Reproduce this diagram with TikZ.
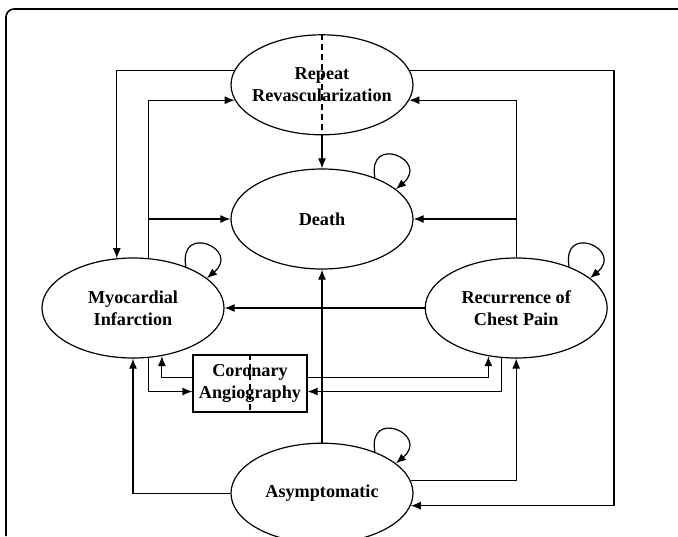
\documentclass[tikz,border=0pt]{standalone}
\usepackage{fontspec}
\setmainfont{Liberation Serif}
\usetikzlibrary{arrows.meta,positioning,shapes.geometric}

\begin{document}
\begin{tikzpicture}[x=0.5pt,y=0.5pt,
		state/.style={ellipse,draw=black,line width=0.6pt,inner sep=0mm,minimum width=91pt,minimum height=50pt},
		procbox/.style={rectangle,draw=black,line width=0.6pt,inner sep=0mm,minimum width=57pt,minimum height=28.5pt},
		every label/.style={align=center,font=\fontsize{9.1}{11}\selectfont\bfseries},
		link/.style={line width=0.6pt,-{Latex[length=5pt,width=4pt]}},
		selfloop/.style={link,out=100,in=40,distance=22.5pt}]

	\useasboundingbox (0,0) rectangle (678,-536);
	\clip (0,0) rectangle (678,-536);
	\draw[line width=0.8pt,rounded corners=4pt] (6,-536) -- (6,-9) -- (678,-9);

	\node[state] (death) at (322,-219) [label = center:{Death}] {};
	\node[state] (revasc) [above=16.5pt of death] [label = center:{Repeat\\Revascularization}] {};
	\node[state] (asym) [below=86.5pt of death] [label = center:{Asymptomatic}] {};
	\node[state] (mi) at (133,-308) [label = center:{Myocardial\\Infarction}] {};
	\node[state] (pain) [right=100pt of mi] [label = center:{Recurrence of\\Chest Pain}] {};
	\node[procbox] (angio) at (250,-383.5) [label = center:{Coronary\\Angiography}] {};

	% straight links
	\draw[link] (revasc.south) -- (death.north);
	\draw[densely dashed,line width=0.6pt] (revasc.north) -- (revasc.south);
	\draw[link] (asym.north) -- (death.south);
	\draw[link] (pain.west) -- (mi.east);

	% outer tracks
	\coordinate (rtrack) at (614,-300);
	\draw[link] (revasc.171) -| (mi.108);
	\draw[link] (revasc.9) -| (rtrack) |- (asym.352);
	\draw[link] (mi.73) |- (revasc.190);
	\draw[link] (mi.73 |- death.west) -- (death.west);
	\draw[link] (pain.north) |- (revasc.350);
	\draw[link] (pain.north |- death.east) -- (death.east);
	\draw[link] (asym.west) -| (mi.south);
	\draw[link] (asym.8) -| (pain.south);

	% angiography box
	\draw[link] (mi.287) |- ([yshift=-4pt]angio.west);
	\draw[link] ([yshift=3pt]angio.west) -| (mi.301);
	\draw[link] ([yshift=3pt]angio.east) -| (pain.240);
	\draw[link] (pain.254) |- ([yshift=-4pt]angio.east);
	\draw[densely dashed,line width=0.6pt] (angio.north) -- (angio.south);

	% stay in the same state
	\foreach \s in {death,mi,pain,asym}
		\draw[selfloop] (\s.38) to (\s.22);
\end{tikzpicture}
\end{document}
